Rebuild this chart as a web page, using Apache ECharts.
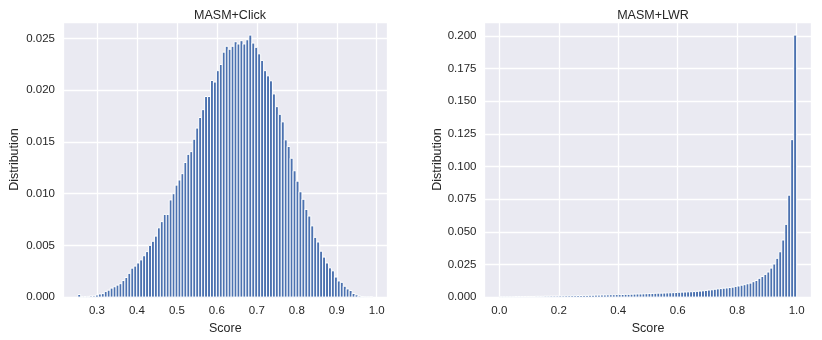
<!DOCTYPE html>
<html>
<head>
<meta charset="utf-8">
<script src="https://cdn.jsdelivr.net/npm/echarts@6/dist/echarts.min.js"></script>
<style>html,body{margin:0;padding:0;background:#fff;}#c{width:822px;height:340px;}</style>
</head>
<body>
<div id="c"></div>
<script>
// ---- data ----
const titles = ['MASM+Click', 'MASM+LWR'];
const xAxisName = 'Score';
const yAxisName = 'Distribution';

// MASM+Click: 100 bins between these edges
const clickBinStart = 0.252;
const clickBinEnd = 0.990;
const clickDistribution = [
  0.00025, 0.00004, 0.00005, 0.00007, 0.0001, 0.00011, 0.0002, 0.0003, 0.00034, 0.00055,
  0.00067, 0.00087, 0.001, 0.00116, 0.0013, 0.0016, 0.0019, 0.0023, 0.0028, 0.003,
  0.0033, 0.0036, 0.004, 0.0044, 0.005, 0.0054, 0.0059, 0.0067, 0.0073, 0.008,
  0.008, 0.0094, 0.01, 0.01083, 0.01133, 0.01194, 0.01302, 0.01381, 0.01407, 0.01527,
  0.01635, 0.01737, 0.01813, 0.0194, 0.0194, 0.02095, 0.0208, 0.0219, 0.0225, 0.02369,
  0.02426, 0.02397, 0.02426, 0.0247, 0.02448, 0.0248, 0.02448, 0.02489, 0.02534, 0.02457,
  0.02416, 0.02353, 0.02289, 0.0219, 0.0214, 0.02092, 0.01965, 0.01842, 0.01768, 0.01695,
  0.01521, 0.01457, 0.01343, 0.01222, 0.01121, 0.01019, 0.00946, 0.00848, 0.00784, 0.00689,
  0.00578, 0.00533, 0.00444, 0.00387, 0.0033, 0.00283, 0.00254, 0.00194, 0.00156, 0.00143,
  0.00105, 0.00079, 0.00064, 0.00035, 0.00022, 0.0001, 0.00005, 0.00003, 0.00002, 0.00001
];

// MASM+LWR: 100 bins between these edges
const lwrBinStart = 0.0;
const lwrBinEnd = 1.0;
const lwrDistribution = [
  0.0002, 0.0003, 0.0003, 0.0003, 0.0003, 0.0004, 0.0004, 0.0004, 0.0004, 0.0005,
  0.0005, 0.0005, 0.0006, 0.0006, 0.0006, 0.0007, 0.0007, 0.0008, 0.0008, 0.0008,
  0.0009, 0.0009, 0.001, 0.001, 0.0011, 0.0011, 0.0012, 0.0012, 0.0013, 0.0013,
  0.0014, 0.0014, 0.0015, 0.0015, 0.0016, 0.0016, 0.0017, 0.0018, 0.0018, 0.0019,
  0.0019, 0.002, 0.0021, 0.0021, 0.0022, 0.0023, 0.0024, 0.0024, 0.0025, 0.0026,
  0.0027, 0.0028, 0.0029, 0.003, 0.003, 0.0031, 0.0032, 0.0033, 0.0034, 0.0035,
  0.0037, 0.0038, 0.0039, 0.004, 0.0041, 0.0042, 0.0044, 0.0046, 0.0048, 0.0051,
  0.0054, 0.0056, 0.006, 0.0063, 0.0065, 0.0068, 0.007, 0.0073, 0.0076, 0.0082,
  0.0085, 0.0091, 0.0095, 0.0102, 0.0107, 0.0118, 0.0127, 0.0144, 0.0158, 0.0174,
  0.0192, 0.0222, 0.0253, 0.0297, 0.0347, 0.0437, 0.0557, 0.078, 0.1205, 0.2005
];

// ---- build ----
function toBins(start, end, values) {
  const w = (end - start) / values.length;
  return values.map((v, i) => [start + i * w, start + (i + 1) * w, v]);
}
function axisRange(start, end, frac) {
  const pad = (end - start) * frac;
  return [start - pad, end + pad];
}
const clickBins = toBins(clickBinStart, clickBinEnd, clickDistribution);
const lwrBins = toBins(lwrBinStart, lwrBinEnd, lwrDistribution);
const clickX = axisRange(clickBinStart, clickBinEnd, 0.05);
const lwrX = axisRange(lwrBinStart, lwrBinEnd, 0.05);
const clickYMax = Math.max(...clickDistribution) * 1.05;
const lwrYMax = Math.max(...lwrDistribution) * 1.05;

const FONT = '"Liberation Sans", Arial, sans-serif';
const TXT = '#262626';
const TICK_SIZE = 11.5;
const LABEL_SIZE = 12.5;

function renderBar(params, api) {
  const p0 = api.coord([api.value(0), api.value(2)]);
  const p1 = api.coord([api.value(1), 0]);
  return {
    type: 'rect',
    shape: { x: p0[0], y: p0[1], width: p1[0] - p0[0], height: p1[1] - p0[1] },
    style: { fill: '#4c72b0', stroke: '#ffffff', lineWidth: 1 }
  };
}

function xAxisCfg(idx, range, splitNumber) {
  return {
    type: 'value', gridIndex: idx, min: range[0], max: range[1], splitNumber: splitNumber,
    name: xAxisName, nameLocation: 'middle', nameGap: 23,
    nameTextStyle: { fontFamily: FONT, fontSize: LABEL_SIZE, color: TXT },
    axisLine: { show: false }, axisTick: { show: false },
    axisLabel: { fontFamily: FONT, fontSize: TICK_SIZE, color: TXT, margin: 8,
      showMinLabel: false, showMaxLabel: false,
      formatter: v => v.toFixed(1) },
    splitLine: { show: true, lineStyle: { color: '#ffffff', width: 1.3 } }
  };
}
function yAxisCfg(idx, max, interval, nameGap) {
  return {
    type: 'value', gridIndex: idx, min: 0, max: max, interval: interval,
    name: yAxisName, nameLocation: 'middle', nameGap: nameGap,
    nameTextStyle: { fontFamily: FONT, fontSize: LABEL_SIZE, color: TXT },
    axisLine: { show: false }, axisTick: { show: false },
    axisLabel: { fontFamily: FONT, fontSize: TICK_SIZE, color: TXT, margin: 8,
      showMaxLabel: false, formatter: v => v.toFixed(3) },
    splitLine: { show: true, lineStyle: { color: '#ffffff', width: 1.3 } }
  };
}

const chart = echarts.init(document.getElementById('c'), null, { renderer: 'canvas' });
chart.setOption({
  animation: false,
  backgroundColor: '#ffffff',
  title: [
    { text: titles[0], left: 225, top: 4, textAlign: 'center',
      textStyle: { fontFamily: FONT, fontSize: LABEL_SIZE, fontWeight: 'normal', color: TXT } },
    { text: titles[1], left: 648, top: 4, textAlign: 'center',
      textStyle: { fontFamily: FONT, fontSize: LABEL_SIZE, fontWeight: 'normal', color: TXT } }
  ],
  grid: [
    { left: 63, right: 434.5, top: 22, bottom: 38, show: true, backgroundColor: '#eaeaf2', borderWidth: 0 },
    { left: 484.5, right: 10.5, top: 22, bottom: 38, show: true, backgroundColor: '#eaeaf2', borderWidth: 0 }
  ],
  xAxis: [ xAxisCfg(0, clickX, 8), xAxisCfg(1, lwrX, 5) ],
  yAxis: [ yAxisCfg(0, clickYMax, 0.005, 42), yAxisCfg(1, lwrYMax, 0.025, 36) ],
  series: [
    { type: 'custom', xAxisIndex: 0, yAxisIndex: 0, renderItem: renderBar,
      encode: { x: [0, 1], y: 2 }, data: clickBins },
    { type: 'custom', xAxisIndex: 1, yAxisIndex: 1, renderItem: renderBar,
      encode: { x: [0, 1], y: 2 }, data: lwrBins }
  ]
});
</script>
</body>
</html>
